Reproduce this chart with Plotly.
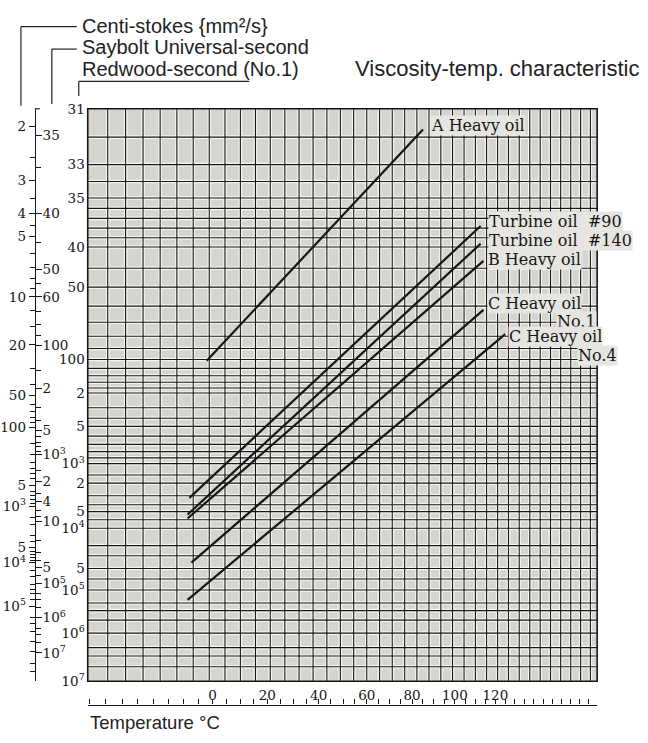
import numpy as np
import plotly.graph_objects as go

# ---------------- data ----------------
# Oil lines: start/end temperature (deg C) and kinematic viscosity (cSt)
oil_names = ["A Heavy oil", "Turbine oil\u00a0\u00a0#90", "Turbine oil\u00a0\u00a0#140",
             "B Heavy oil", "C Heavy oil", "C Heavy oil"]
oil_suffix = ["", "", "", "", "No.1", "No.4"]
oil_t_start = [-2.0, -8.0, -8.6, -8.6, -7.3, -8.6]
oil_t_end = [85.0, 112.6, 112.6, 114.0, 114.0, 125.0]
oil_v_start = [26.0, 751.0, 1354.0, 1567.0, 10080.0, 69460.0]
oil_v_end = [2.04, 4.51, 5.39, 6.49, 11.9, 16.9]

# Temperature axis
temp_labels = [0, 20, 40, 60, 80, 100, 120]
temp_min, temp_max = -40.5, 175.0
# vertical rulings of the chart paper (deg F)
grid_f = list(range(-30, 350, 10))

# Chart's own scale: Redwood seconds (No.1) and their cSt equivalents on the chart
redwood_sec = [31, 33, 35, 40, 50, 100, 200, 500, 1e3, 2e3, 5e3, 1e4, 5e4, 1e5, 1e6, 1e7]
redwood_text = ["31", "33", "35", "40", "50", "100", "2", "5", "10<sup>3</sup>", "2", "5",
                "10<sup>4</sup>", "5", "10<sup>5</sup>", "10<sup>6</sup>", "10<sup>7</sup>"]
redwood_cst = [1.776, 2.64, 3.48, 5.58, 8.84, 25.5, 47.5, 98.2, 258.5, 464.6, 1215, 2289,
               13335, 40380, 5.51e5, 2.18e7]
redwood_grid = [32, 33, 34, 35, 36, 37, 38, 39, 40, 45, 50, 60, 70, 80, 90, 100, 120, 140, 160,
                180, 200, 300, 400, 500, 600, 700, 800, 900, 1000, 1500, 2000, 3000, 4000, 5000,
                7000, 1e4, 2e4, 3e4, 5e4, 7e4, 1e5, 2e5, 3e5, 5e5, 1e6, 2e6, 3e6, 5e6]

# Left ruler: centistokes
cst_labels = [2, 3, 4, 5, 10, 20, 50, 100, 500, 1e3, 5e3, 1e4, 1e5]
cst_text = ["2", "3", "4", "5", "10", "20", "50", "100", "5", "10<sup>3</sup>", "5",
            "10<sup>4</sup>", "10<sup>5</sup>"]
cst_minor = [2.5, 3.5, 4.5, 6, 7, 8, 9, 12, 15, 30, 40, 60, 70, 80, 90,
             150, 200, 250, 300, 350, 400, 600, 700, 800, 900,
             1500, 2000, 3000, 4000, 6000, 7000, 8000, 9000,
             1.5e4, 2e4, 3e4, 4e4, 5e4, 7e4, 2e5, 3e5, 5e5, 1e6, 2e6, 5e6, 1e7]

# Left ruler: Saybolt Universal seconds and their cSt equivalents on the ruler
sus_sec = [35, 40, 50, 60, 100, 200, 500, 1000, 2000, 4000, 1e4, 5e4, 1e5, 1e6, 1e7]
sus_text = ["35", "40", "50", "60", "100", "2", "5", "10<sup>3</sup>", "2", "4", "10", "5",
            "10<sup>5</sup>", "10<sup>6</sup>", "10<sup>7</sup>"]
sus_cst = [2.13, 3.99, 7.16, 10.0, 20.2, 43.4, 108.3, 202, 436, 853, 1734, 12460, 28610,
           2.02e5, 2.23e6]
sus_minor = [37, 45, 55, 70, 80, 90, 150, 300, 400, 600, 700, 800, 900,
             1500, 3000, 6000, 8000, 2e4, 3e4, 4e4, 7e4, 2e5, 3e5, 5e5, 2e6, 3e6, 5e6]


# ---------------- scales ----------------
def astm(nu):
    """ASTM D341 ordinate: log10(log10(nu + 0.7))"""
    return np.log10(np.log10(np.asarray(nu, dtype=float) + 0.7))


def kelvin(t):
    return np.asarray(t, dtype=float) + 273.15


def f_to_c(f):
    return (np.asarray(f, dtype=float) - 32.0) * 5.0 / 9.0


def redwood_to_y(r):
    return np.interp(np.log10(r), np.log10(redwood_sec), astm(redwood_cst))


def sus_to_y(s):
    return np.interp(np.log10(s), np.log10(sus_sec), astm(sus_cst))


y_top = float(astm(redwood_cst[0]))
y_bot = float(astm(redwood_cst[-1]))
y_range = [y_bot, y_top]
x_range = [float(np.log10(kelvin(temp_min))), float(np.log10(kelvin(temp_max)))]

W, H = 648, 743
px_l, px_r, px_t, px_b = 86, 597, 103, 688
x_dom = [px_l / W, px_r / W]
y_dom = [1 - px_b / H, 1 - px_t / H]

INK = "#161616"
SERIF = "DejaVu Serif"
SANS = "Liberation Sans"

fig = go.Figure()

# ---- grid (white halo + black line) ----
vx, vy = [], []
for t in f_to_c(grid_f):
    if temp_min < t < temp_max:
        vx += [kelvin(t), kelvin(t), None]
        vy += [y_bot, y_top, None]
hx, hy = [], []
for r in redwood_grid:
    yy = float(redwood_to_y(r))
    hx += [kelvin(temp_min), kelvin(temp_max), None]
    hy += [yy, yy, None]
for col, w in (("#f4f4f0", 3.6), (INK, 1.1)):
    fig.add_trace(go.Scatter(x=vx, y=vy, mode="lines", line=dict(color=col, width=w),
                             hoverinfo="skip", showlegend=False))
    fig.add_trace(go.Scatter(x=hx, y=hy, mode="lines", line=dict(color=col, width=w),
                             hoverinfo="skip", showlegend=False))

# ---- oil lines ----
for i, name in enumerate(oil_names):
    fig.add_trace(go.Scatter(
        x=kelvin([oil_t_start[i], oil_t_end[i]]),
        y=astm([oil_v_start[i], oil_v_end[i]]),
        mode="lines", line=dict(color=INK, width=2.2),
        name=name, showlegend=False, hoverinfo="skip"))

# dummy traces so the ruler axes are drawn
fig.add_trace(go.Scatter(x=[kelvin(0)], y=[0], yaxis="y2", mode="markers",
                         marker=dict(opacity=0), hoverinfo="skip", showlegend=False))
fig.add_trace(go.Scatter(x=[kelvin(0)], y=[0], yaxis="y3", mode="markers",
                         marker=dict(opacity=0), hoverinfo="skip", showlegend=False))
fig.add_trace(go.Scatter(x=[kelvin(0)], y=[0], xaxis="x2", mode="markers",
                         marker=dict(opacity=0), hoverinfo="skip", showlegend=False))

# ---- oil labels ----
label_shift = [(7, 4), (7, 5), (7, 3), (4, 1), (4, 6), (3, -2)]
suffix_shift = [(0, 0), (0, 0), (0, 0), (0, 0), (114, -12), (113, -21)]
annots = []
for i, name in enumerate(oil_names):
    ax = float(np.log10(kelvin(oil_t_end[i])))
    ay = float(astm(oil_v_end[i]))
    dx, dy = label_shift[i]
    annots.append(dict(x=ax, y=ay, xref="x", yref="y", text=name, showarrow=False,
                       xanchor="left", yanchor="middle", xshift=dx, yshift=dy,
                       bgcolor="#e6e5e1", borderpad=0,
                       font=dict(family=SERIF, size=16, color=INK)))
    if oil_suffix[i]:
        sx, sy = suffix_shift[i]
        annots.append(dict(x=ax, y=ay, xref="x", yref="y", text=oil_suffix[i], showarrow=False,
                           xanchor="right", yanchor="middle", xshift=sx, yshift=sy,
                           bgcolor="#e6e5e1", borderpad=0,
                           font=dict(family=SERIF, size=16, color=INK)))

# ---- header texts ----
def paper_x(px):
    return px / W


def paper_y(py):
    return 1 - py / H


for txt, py in (("Centi-stokes {mm\u00b2/s}", 18), ("Saybolt Universal-second", 40),
                ("Redwood-second (No.1)", 62)):
    annots.append(dict(x=paper_x(78), y=paper_y(py), xref="paper", yref="paper", text=txt,
                       showarrow=False, xanchor="left", yanchor="middle",
                       font=dict(family=SANS, size=20, color="#222")))
annots.append(dict(x=paper_x(641), y=paper_y(62), xref="paper", yref="paper",
                   text="Viscosity-temp. characteristic", showarrow=False,
                   xanchor="right", yanchor="middle",
                   font=dict(family=SANS, size=22, color="#222")))
annots.append(dict(x=paper_x(86), y=paper_y(730), xref="paper", yref="paper",
                   text="Temperature \u00b0C", showarrow=False, xanchor="left", yanchor="middle",
                   font=dict(family=SANS, size=18.5, color="#222")))

# ---- bracket lines of the header ----
shapes = []
def seg(x0, y0, x1, y1, w=1.2):
    shapes.append(dict(type="line", xref="paper", yref="paper",
                       x0=paper_x(x0), y0=paper_y(y0), x1=paper_x(x1), y1=paper_y(y1),
                       line=dict(color="#222", width=w)))

seg(19, 19, 75, 19); seg(19, 19, 19, 100)
seg(50, 42, 75, 42); seg(50, 42, 50, 98)
seg(77, 75, 248, 75); seg(77, 75, 77, 90)
seg(33, 103, 38, 103)
# plot frame
shapes.append(dict(type="rect", xref="paper", yref="paper", x0=x_dom[0], x1=x_dom[1],
                   y0=y_dom[0], y1=y_dom[1], line=dict(color=INK, width=1.6)))

num_font = dict(family=SERIF, size=13.5, color=INK)

ruler_t = np.arange(-40, 176, 5)

fig.update_layout(
    width=W, height=H, margin=dict(l=0, r=0, t=0, b=0),
    paper_bgcolor="white", plot_bgcolor="#d5d4cf",
    showlegend=False,
    xaxis=dict(type="log", domain=x_dom, range=x_range, showgrid=False, zeroline=False,
               tickvals=list(kelvin(temp_labels)), ticktext=[str(t) for t in temp_labels],
               ticks="", tickfont=num_font, ticklabelstandoff=4, showline=False),
    xaxis2=dict(type="log", overlaying="x", anchor="free", position=1 - 712 / H,
                range=x_range, showgrid=False, zeroline=False, showline=True,
                linecolor=INK, linewidth=1.4, ticks="inside", ticklen=5, tickwidth=1,
                tickcolor=INK, tickvals=list(kelvin(ruler_t)), showticklabels=False),
    yaxis=dict(domain=y_dom, range=y_range, showgrid=False, zeroline=False,
               tickvals=list(astm(redwood_cst)), ticktext=redwood_text, ticks="",
               tickfont=num_font, ticklabelstandoff=2, showline=False),
    yaxis2=dict(overlaying="y", anchor="free", position=33 / W, side="left",
                range=y_range, showgrid=False, zeroline=False, showline=True,
                linecolor=INK, linewidth=1.4, ticks="outside", ticklen=6, tickwidth=1,
                tickcolor=INK, tickmode="array", tickvals=list(astm(cst_labels)),
                ticktext=cst_text, tickfont=num_font, ticklabelstandoff=0,
                minor=dict(tickmode="array", tickvals=list(astm(cst_minor)), ticks="outside",
                           ticklen=5, tickwidth=1, tickcolor=INK, showgrid=False)),
    yaxis3=dict(overlaying="y", anchor="free", position=33 / W, side="right",
                range=y_range, showgrid=False, zeroline=False, showline=False,
                ticks="outside", ticklen=6, tickwidth=1, tickcolor=INK,
                tickmode="array", tickvals=list(astm(sus_cst)), ticktext=sus_text,
                tickfont=num_font, ticklabelstandoff=-2,
                minor=dict(tickmode="array", tickvals=list(sus_to_y(sus_minor)),
                           ticks="outside", ticklen=5, tickwidth=1, tickcolor=INK,
                           showgrid=False)),
    annotations=annots, shapes=shapes,
)

fig.write_html("out.html", config={"displayModeBar": False},
               post_script="document.body.style.margin='0';")
